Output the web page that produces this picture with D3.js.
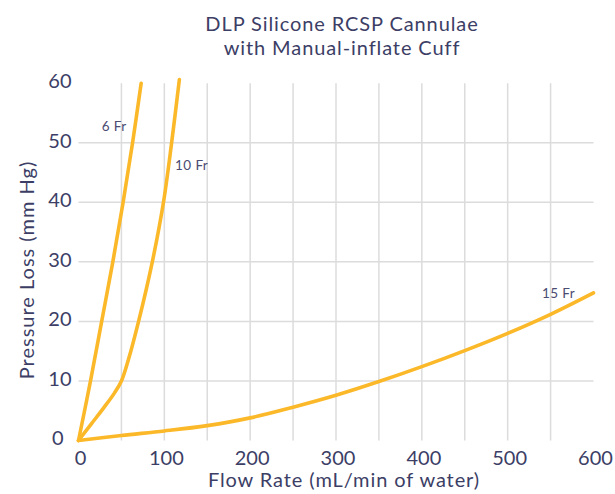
<!DOCTYPE html>
<html>
<head>
<meta charset="utf-8">
<script src="https://cdn.jsdelivr.net/npm/d3@7"></script>
<style>
  html, body { margin: 0; padding: 0; background: #ffffff; }
  svg { display: block; }
  text { font-family: Lato, "Open Sans", sans-serif; }
</style>
</head>
<body>
<svg id="chart" width="615" height="494"></svg>
<script>
const titleLines = ["DLP Silicone RCSP Cannulae", "with Manual-inflate Cuff"];
const xLabel = "Flow Rate (mL/min of water)";
const yLabel = "Pressure Loss (mm Hg)";
const xTicks = [0, 100, 200, 300, 400, 500, 600];
const yTicks = [0, 10, 20, 30, 40, 50, 60];
const xGrid = [50, 100, 150, 200, 250, 300, 350, 400, 450, 500, 550];
const yGrid = [10, 20, 30, 40, 50];

const seriesNames = ["6 Fr", "10 Fr", "15 Fr"];
const fr6Flow = [0, 14, 27, 40, 52, 63, 73];
const fr6Pressure = [0, 10, 20, 30, 40, 50, 60];
const fr10Flow = [0, 15, 30, 42, 50, 58, 70, 86, 99, 108.5, 117.5];
const fr10Pressure = [0, 2.8, 5.6, 8, 10, 13.5, 20, 30, 40, 50, 60.6];
const fr15Flow = [0, 50, 100, 150, 200, 250, 300, 350, 400, 450, 500, 550, 600];
const fr15Pressure = [0, 0.85, 1.6, 2.5, 3.8, 5.6, 7.6, 9.9, 12.4, 15.1, 18, 21.2, 24.8];
const labelAnchors = [[27, 52], [112.5, 45.4], [540, 23.9]];

const textColor = "#3c3e66";
const lineColor = "#fbb829";
const gridColor = "#dcdcdc";

const svg = d3.select("#chart");
const x = d3.scaleLinear().domain([0, 600]).range([78.5, 593.5]);
const y = d3.scaleLinear().domain([0, 60]).range([440.5, 83.2]);

// grid
svg.append("g").selectAll("line").data(xGrid).join("line")
  .attr("x1", d => x(d)).attr("x2", d => x(d))
  .attr("y1", y(60)).attr("y2", y(0))
  .attr("stroke", gridColor).attr("stroke-width", 1.5);
svg.append("g").selectAll("line").data(yGrid).join("line")
  .attr("x1", x(0)).attr("x2", x(600))
  .attr("y1", d => y(d)).attr("y2", d => y(d))
  .attr("stroke", gridColor).attr("stroke-width", 1.5);

// axes (labels only)
const xAxis = d3.axisBottom(x).tickValues(xTicks).tickSize(0).tickPadding(0).tickFormat(d3.format("d"));
const gx = svg.append("g").attr("transform", `translate(1.5, ${y(0) + 24})`).call(xAxis);
gx.select(".domain").remove();
gx.selectAll("text").attr("font-size", 20).attr("fill", textColor)
  .attr("font-family", "Lato, sans-serif").attr("dy", 0);

const yAxis = d3.axisLeft(y).tickValues(yTicks).tickSize(0).tickPadding(0).tickFormat(d3.format("d"));
const gy = svg.append("g").attr("transform", `translate(71.5, -2)`).call(yAxis);
gy.select(".domain").remove();
gy.selectAll("text").attr("font-size", 20).attr("fill", textColor)
  .attr("font-family", "Lato, sans-serif")
  .attr("x", d => d === 0 ? -8 : 0);

// series
const line = d3.line().x(d => x(d[0])).y(d => y(d[1])).curve(d3.curveCatmullRom.alpha(0.5));
const series = [
  d3.zip(fr6Flow, fr6Pressure),
  d3.zip(fr10Flow, fr10Pressure),
  d3.zip(fr15Flow, fr15Pressure)
];
svg.append("g").selectAll("path").data(series).join("path")
  .attr("d", line)
  .attr("fill", "none")
  .attr("stroke", lineColor)
  .attr("stroke-width", 3.6)
  .attr("stroke-linecap", "round")
  .attr("stroke-linejoin", "round");

// series labels
svg.append("g").selectAll("text").data(seriesNames).join("text")
  .attr("x", (d, i) => x(labelAnchors[i][0]))
  .attr("y", (d, i) => y(labelAnchors[i][1]))
  .attr("font-size", 13.5)
  .attr("letter-spacing", 0.4)
  .attr("fill", "#4a4c72")
  .text(d => d);

// titles
const ls = 0.9;
svg.append("text").attr("x", 342).attr("y", 31).attr("text-anchor", "middle")
  .attr("font-size", 20).attr("letter-spacing", ls).attr("fill", textColor).text(titleLines[0]);
svg.append("text").attr("x", 342).attr("y", 54.5).attr("text-anchor", "middle")
  .attr("font-size", 20).attr("letter-spacing", ls).attr("fill", textColor).text(titleLines[1]);

svg.append("text").attr("x", 344).attr("y", 487).attr("text-anchor", "middle")
  .attr("font-size", 20).attr("letter-spacing", ls).attr("fill", textColor).text(xLabel);

svg.append("text").attr("transform", "translate(34, 270) rotate(-90)")
  .attr("text-anchor", "middle")
  .attr("font-size", 20).attr("letter-spacing", 1).attr("fill", textColor).text(yLabel);
</script>
</body>
</html>
